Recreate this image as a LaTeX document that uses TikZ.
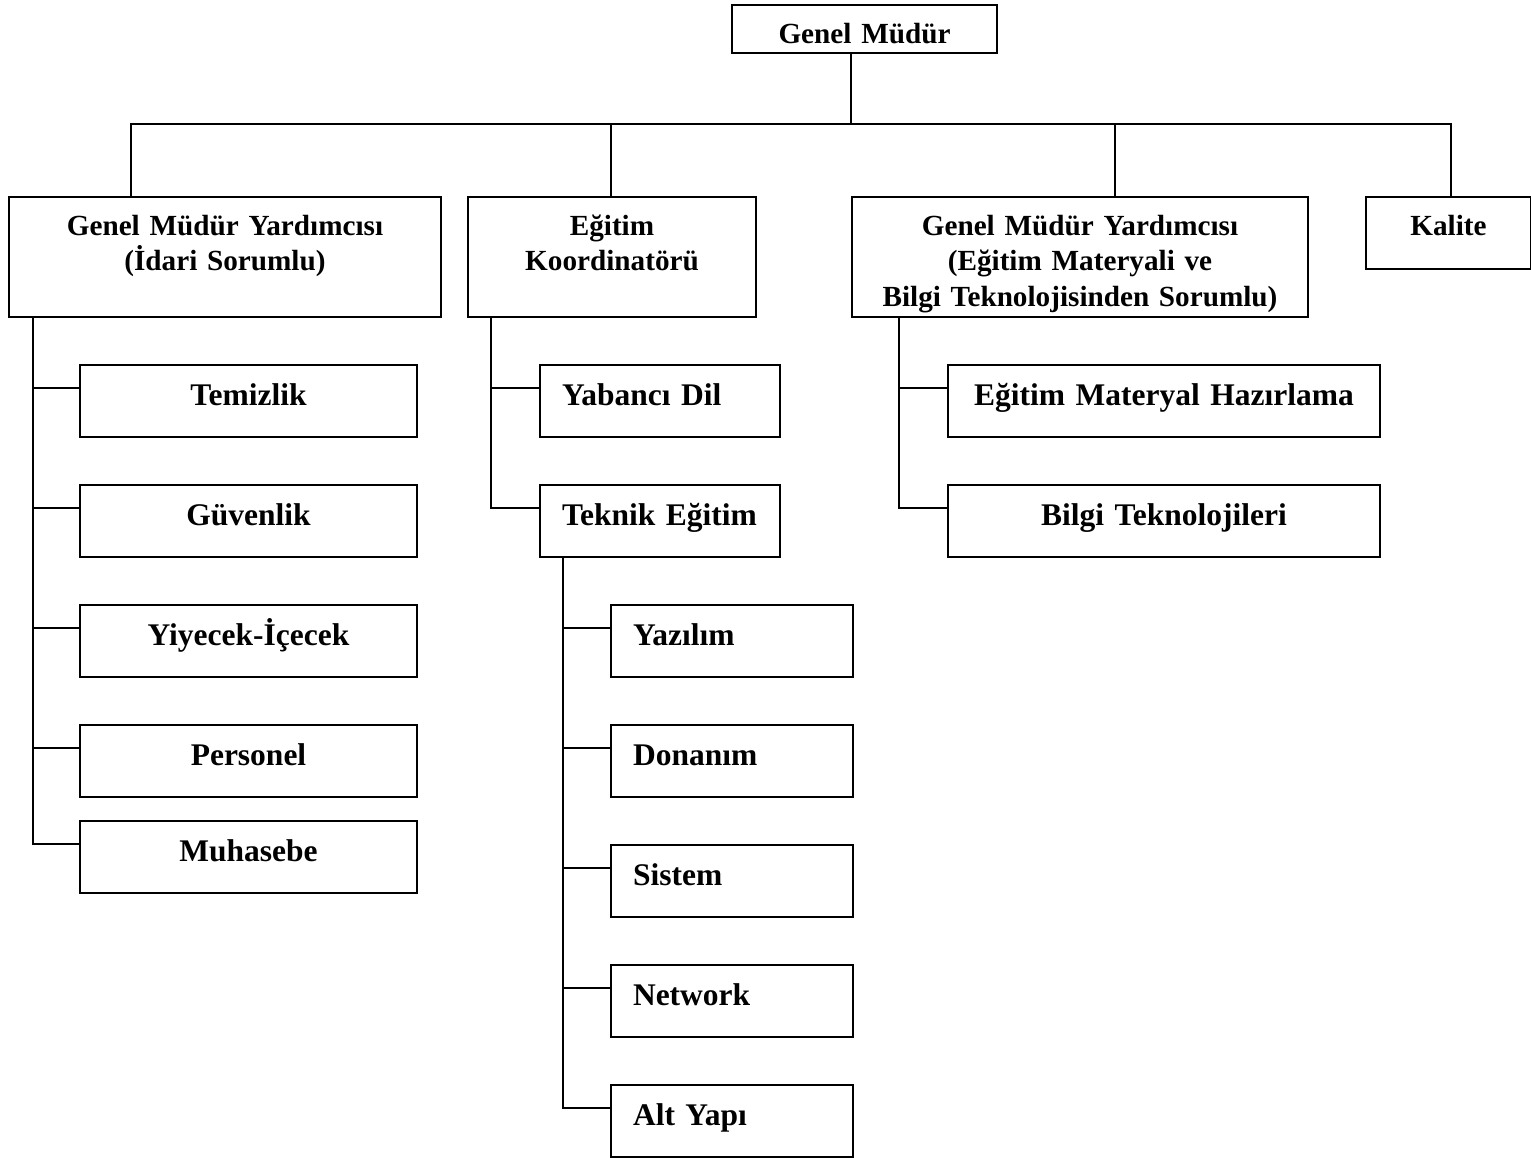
\documentclass[tikz,border=0pt]{standalone}
\usepackage{fontspec}
\setmainfont{Liberation Serif}
\newcommand{\headfont}{\fontsize{29.2pt}{35.5pt}\selectfont\bfseries}
\newcommand{\deptfont}{\fontsize{31.5pt}{38pt}\selectfont\bfseries}
\tikzset{
  box/.style={draw, line width=2pt, anchor=north west, inner xsep=22pt, inner ysep=0pt},
  chief/.style={box, font=\headfont, align=center, text height=38pt, text depth=82pt},
  dept/.style={box, font=\deptfont, text height=40pt, text depth=32pt},
}

\begin{document}
\begin{tikzpicture}[x=1pt, y=-1pt, line width=2pt]
    \useasboundingbox (0,0) rectangle (1531,1157);
    % top level
    \node[chief, text width=221pt, text depth=10pt] (gm) at (731,4) {Genel Müdür};
    \node[chief, text width=388pt] (gmy1) at (8,196) {Genel Müdür Yardımcısı\\(İdari Sorumlu)};
    \node[chief, text width=244pt] (ek) at (467,196) {Eğitim\\Koordinatörü};
    \node[chief, text width=412pt] (gmy2) at (851,196) {Genel Müdür Yardımcısı\\(Eğitim Materyali ve\\Bilgi Teknolojisinden Sorumlu)};
    \node[chief, text width=121pt, text depth=34pt] (kal) at (1365,196) {Kalite};
    % departments
    \foreach \n/\y/\t in {tm/364/Temizlik, gv/484/Güvenlik, yi/604/Yiyecek-İçecek, pe/724/Personel, mu/820/Muhasebe}
        \node[dept, align=center, text width=293pt] (\n) at (79,\y) {\t};
    \node[dept, align=left, text width=196pt] (yd) at (539,364) {Yabancı Dil};
    \node[dept, align=left, text width=196pt] (te) at (539,484) {Teknik~Eğitim};
    \node[dept, align=center, text width=388pt] (emh) at (947,364) {Eğitim Materyal Hazırlama};
    \node[dept, align=center, text width=388pt] (bt) at (947,484) {Bilgi Teknolojileri};
    \foreach \n/\y/\t in {yz/604/Yazılım, dn/724/Donanım, si/844/Sistem, nw/964/Network, ay/1084/Alt Yapı}
        \node[dept, align=left, text width=198pt] (\n) at (610,\y) {\t};
    % bus
    \coordinate (jm) at (851,124);
    \coordinate (j1) at (131,124);
    \coordinate (j2) at (611,124);
    \coordinate (j3) at (1115,124);
    \coordinate (j4) at (1451,124);
    \draw (gm.south -| jm) -- (jm);
    \draw (j1 |- gmy1.north) -- (j1) -- (j4) -- (j4 |- kal.north);
    \draw (j2) -- (j2 |- ek.north);
    \draw (j3) -- (j3 |- gmy2.north);
    % branches
    \draw ([xshift=25pt]gmy1.south west) |- ([yshift=-24pt]mu.north west);
    \foreach \n in {tm, gv, yi, pe}
        \draw ([yshift=-24pt]\n.north west) -- ++(-46,0);
    \draw ([xshift=24pt]ek.south west) |- ([yshift=-24pt]te.north west);
    \draw ([yshift=-24pt]yd.north west) -- ++(-48,0);
    \draw ([xshift=48pt]gmy2.south west) |- ([yshift=-24pt]bt.north west);
    \draw ([yshift=-24pt]emh.north west) -- ++(-48,0);
    \draw ([xshift=24pt]te.south west) |- ([yshift=-24pt]ay.north west);
    \foreach \n in {yz, dn, si, nw}
        \draw ([yshift=-24pt]\n.north west) -- ++(-47,0);
\end{tikzpicture}
\end{document}
